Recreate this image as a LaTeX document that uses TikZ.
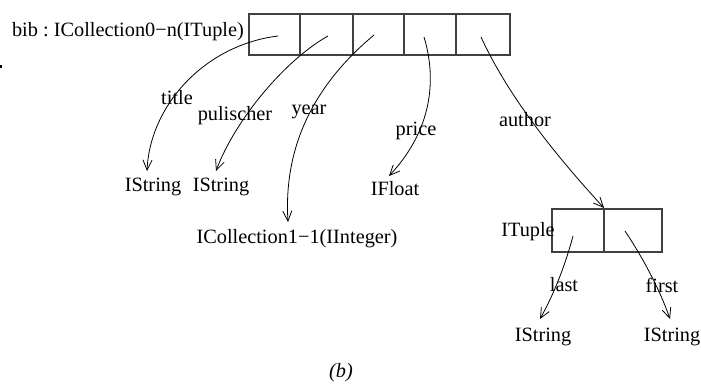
\documentclass[tikz,border=0pt]{standalone}
\usepackage{fontspec}
\setmainfont{Liberation Serif}
\usetikzlibrary{arrows.meta}
\begin{document}
\begin{tikzpicture}[x=1pt,y=-1pt,
  lbl/.style={inner sep=0pt,font=\fontsize{20.3}{24}\selectfont},
  box/.style={draw=black!75,line width=1.2pt},
  link/.style={line width=0.8pt,-{Straight Barb[length=10pt,width=9pt]}}]
\useasboundingbox (0,0) rectangle (701,383);
\fill (0,65) rectangle (2,68);
% big box
\draw[box] (249,14) rectangle (510,55);
\foreach \x in {300,353,404,456} \draw[box] (\x,14) -- (\x,55);
\node[lbl,anchor=east] (bib) at (244,32) {bib :\ ICollection0−n(ITuple)};
% small box
\draw[box] (552,209) rectangle (662,252);
\draw[box] (604,209) -- (604,252);
% start coordinates
\coordinate (s1) at (278,36);
\coordinate (s2) at (328,36);
\coordinate (s3) at (374,35);
\coordinate (s4) at (424,37);
\coordinate (s5) at (481,37);
\coordinate (t1) at (573,236);
\coordinate (t2) at (625,231);
% end coordinates
\coordinate (e1) at (147,171);
\coordinate (e2) at (216,171);
\coordinate (e3) at (288,222);
\coordinate (e4) at (389,176);
\coordinate (e5) at (604,208);
\coordinate (f1) at (540,319);
\coordinate (f2) at (670,319);
% targets
\node[lbl] (str1) at (153,187) {IString};
\node[lbl] (str2) at (221,187) {IString};
\node[lbl] (coll) at (297,239) {ICollection1−1(IInteger)};
\node[lbl] (flt) at (395,189) {IFloat};
\node[lbl] (tup) at (528,232) {ITuple};
\node[lbl] (str3) at (543,337) {IString};
\node[lbl] (str4) at (672,337) {IString};
% arrows
\draw[link] (s1) .. controls (205,45) and (150,105) .. (e1);
\draw[link] (s2) .. controls (285,60) and (235,120) .. (e2);
\draw[link] (s3) .. controls (320,80) and (283,140) .. (e3);
\draw[link] (s4) .. controls (437,80) and (432,130) .. (e4);
\draw[link] (s5) .. controls (510,100) and (560,160) .. (e5);
\draw[link] (t1) .. controls (566,262) and (556,290) .. (f1);
\draw[link] (t2) .. controls (643,258) and (660,290) .. (f2);
% labels
\node[lbl] (ltitle) at (177,98) {title};
\node[lbl] (lpub) at (235,116) {pulischer};
\node[lbl] (lyear) at (309,112) {year};
\node[lbl] (lprice) at (416,131) {price};
\node[lbl] (lauth) at (525,120) {author};
\node[lbl] (llast) at (564,285) {last};
\node[lbl] (lfirst) at (662,285) {first};
\node[lbl,font=\fontsize{20.3}{24}\selectfont\itshape] (cap) at (341,373) {(b)};
\end{tikzpicture}
\end{document}
